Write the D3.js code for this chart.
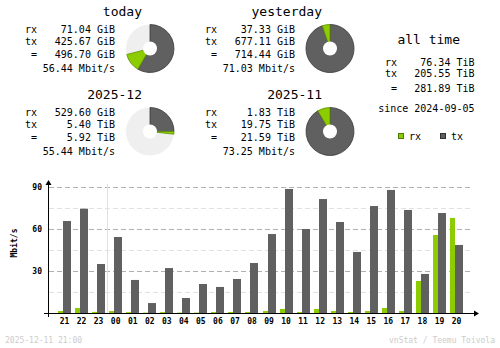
<!DOCTYPE html>
<html><head><meta charset="utf-8">
<script src="https://cdn.jsdelivr.net/npm/d3@7/dist/d3.min.js"></script>
<style>body{margin:0;background:#fff}svg{display:block}</style>
</head><body><svg id="c" width="500" height="348"></svg>
<script>
// ---- data ----
const hours = ["21","22","23","00","01","02","03","04","05","06","07","08","09","10","11","12","13","14","15","16","17","18","19","20"];
const rxRate = [1.4,3.6,0.8,1.4,0.6,0.3,0.6,0.3,0.3,0.7,0.7,0.7,1.4,2.9,0.7,2.9,1.4,0.7,1.4,3.6,1.4,22.9,55.7,67.9];
const txRate = [65.7,74.5,35.0,54.3,23.6,7.1,32.1,10.7,20.7,18.6,24.3,35.7,56.4,88.6,60.0,81.4,65.0,43.6,76.4,87.9,73.6,27.9,71.4,48.6];
const yTicks = [30,60,90];
const yMinor = [15,45,75];
const blockTitles = ["today","yesterday","2025-12","2025-11"];
const rxTotals = ["71.04 GiB","37.33 GiB","529.60 GiB","1.83 TiB"];
const txTotals = ["425.67 GiB","677.11 GiB","5.40 TiB","19.75 TiB"];
const sumTotals = ["496.70 GiB","714.44 GiB","5.92 TiB","21.59 TiB"];
const avgRates = ["56.44 Mbit/s","71.03 Mbit/s","55.44 Mbit/s","73.25 Mbit/s"];
const pieTx = [0.585,0.948,0.25,0.915];
const pieRx = [0.125,0.052,0.018,0.085];
const allTimeLabels = ["rx","tx"," ="];
const allTimeValues = ["76.34 TiB","205.55 TiB","281.89 TiB"];
const sinceText = "since 2024-09-05";
const legendKeys = ["rx","tx"];
const footerLeft = "2025-12-11 21:00";
const footerRight = "vnStat / Teemu Toivola";

// ---- style ----
const RX = "#8ccc00", TX = "#606060";
const mono = "'DejaVu Sans Mono', monospace";
const svg = d3.select("#c");

// ---- summary blocks ----
const bx = [0,180,0,180], by = [0,0,83,83];
const arc = d3.arc();
blockTitles.forEach((t,i)=>{
  const g = svg.append("g").attr("transform",`translate(${bx[i]},${by[i]})`);
  g.append("text").attr("x",142).attr("y",16).attr("text-anchor","end")
    .attr("font-family",mono).attr("font-size",13).text(t);
  const labs = ["rx","tx"," ="], vals=[rxTotals[i],txTotals[i],sumTotals[i]], ys=[33,45,57.5];
  labs.forEach((l,j)=>{
    g.append("text").attr("x",25).attr("y",ys[j]).attr("font-family",mono).attr("font-size",10)
      .attr("xml:space","preserve").style("white-space","pre").text(l);
    g.append("text").attr("x",115).attr("y",ys[j]).attr("text-anchor","end").attr("font-family",mono).attr("font-size",10).text(vals[j]);
  });
  g.append("text").attr("x",115).attr("y",72).attr("text-anchor","end").attr("font-family",mono).attr("font-size",10).text(avgRates[i]);
  const p = g.append("g").attr("transform","translate(150,48.5)");
  p.append("circle").attr("r",24).attr("fill","#efefef");
  const a1 = pieTx[i]*2*Math.PI, a2 = (pieTx[i]+pieRx[i])*2*Math.PI;
  p.append("path").attr("d",arc({innerRadius:0,outerRadius:24,startAngle:0,endAngle:a1}))
    .attr("fill",TX).attr("stroke","#3a3a3a").attr("stroke-width",0.8);
  p.append("path").attr("d",arc({innerRadius:0,outerRadius:24,startAngle:a1,endAngle:a2}))
    .attr("fill",RX).attr("stroke","#5f8f00").attr("stroke-width",0.8);
  p.append("circle").attr("r",7).attr("fill","#fff");
});

// all time
svg.append("text").attr("x",428.7).attr("y",44).attr("text-anchor","middle").attr("font-family",mono).attr("font-size",13).text("all time");
const atY = [66,76.7,91.7];
allTimeLabels.forEach((l,j)=>{
  svg.append("text").attr("x",385).attr("y",atY[j]).attr("font-family",mono).attr("font-size",10).style("white-space","pre").text(l);
  svg.append("text").attr("x",474.5).attr("y",atY[j]).attr("text-anchor","end").attr("font-family",mono).attr("font-size",10).text(allTimeValues[j]);
});
svg.append("text").attr("x",474.5).attr("y",112).attr("text-anchor","end").attr("font-family",mono).attr("font-size",10).text(sinceText);
// legend
const legX = [398.5,440.5];
legendKeys.forEach((k,i)=>{
  svg.append("rect").attr("x",legX[i]).attr("y",133.5).attr("width",5).attr("height",5)
    .attr("fill",i?TX:RX).attr("stroke",i?"#303030":"#4f7a00").attr("stroke-width",1);
  svg.append("text").attr("x",legX[i]+10.5).attr("y",139.5).attr("font-family",mono).attr("font-size",10).text(k);
});

// ---- bar chart ----
const y = d3.scaleLinear().domain([0,90]).range([313,187]);
const x = d3.scaleBand().domain(hours).range([56,465]).padding(0);
// minor grid
svg.append("g").selectAll("line").data(yMinor).join("line")
  .attr("x1",49).attr("x2",473).attr("y1",d=>Math.round(y(d))+0.5).attr("y2",d=>Math.round(y(d))+0.5)
  .attr("stroke","#e2e2e2").attr("stroke-dasharray","5,3");
svg.append("g").selectAll("line").data(yTicks).join("line")
  .attr("x1",49).attr("x2",473).attr("y1",d=>Math.round(y(d))+0.5).attr("y2",d=>Math.round(y(d))+0.5)
  .attr("stroke","#b0b0b0").attr("stroke-dasharray","5,3");
// day separator
svg.append("line").attr("x1",Math.round(x("00"))+0.5).attr("x2",Math.round(x("00"))+0.5)
  .attr("y1",184).attr("y2",313).attr("stroke","#e0e0e0");
// bars
svg.append("g").selectAll("rect").data(hours).join("rect")
  .attr("x",d=>Math.round(x(d)+2)).attr("width",5)
  .attr("y",(d,i)=>y(rxRate[i])).attr("height",(d,i)=>313-y(rxRate[i])).attr("fill",RX);
svg.append("g").selectAll("rect").data(hours).join("rect")
  .attr("x",d=>Math.round(x(d)+7)).attr("width",8)
  .attr("y",(d,i)=>y(txRate[i])).attr("height",(d,i)=>313-y(txRate[i])).attr("fill",TX);
// axes
svg.append("line").attr("x1",48.5).attr("x2",48.5).attr("y1",182).attr("y2",317).attr("stroke","#000").attr("stroke-width",1);
svg.append("line").attr("x1",44).attr("x2",476).attr("y1",313.5).attr("y2",313.5).attr("stroke","#000").attr("stroke-width",1);
svg.append("path").attr("d","M45.5,185 L48.5,180 L51.5,185 Z").attr("fill","#000");
svg.append("path").attr("d","M474,310.5 L479,313.5 L474,316.5 Z").attr("fill","#000");
const yAx = svg.append("g").attr("transform","translate(42,0)")
  .call(d3.axisLeft(y).tickValues(yTicks).tickSize(0).tickPadding(0));
yAx.select(".domain").remove();
yAx.selectAll("text").attr("font-family",mono).attr("font-size",8).attr("font-weight","bold").attr("fill","#000");
const xAx = svg.append("g").attr("transform","translate(0,318)")
  .call(d3.axisBottom(x).tickSize(0).tickPadding(0));
xAx.select(".domain").remove();
xAx.selectAll("text").attr("font-family",mono).attr("font-size",8).attr("font-weight","bold").attr("fill","#000");
svg.append("text").attr("transform","translate(17,243) rotate(-90)").attr("text-anchor","middle")
  .attr("font-family",mono).attr("font-size",8).attr("font-weight","bold").text("Mbit/s");
// footer
svg.append("text").attr("x",5).attr("y",342.5).attr("font-family",mono).attr("font-size",8).attr("fill","#cccccc").text(footerLeft);
svg.append("text").attr("x",495).attr("y",342.5).attr("text-anchor","end").attr("font-family",mono).attr("font-size",8).attr("fill","#cccccc").text(footerRight);
</script></body></html>
